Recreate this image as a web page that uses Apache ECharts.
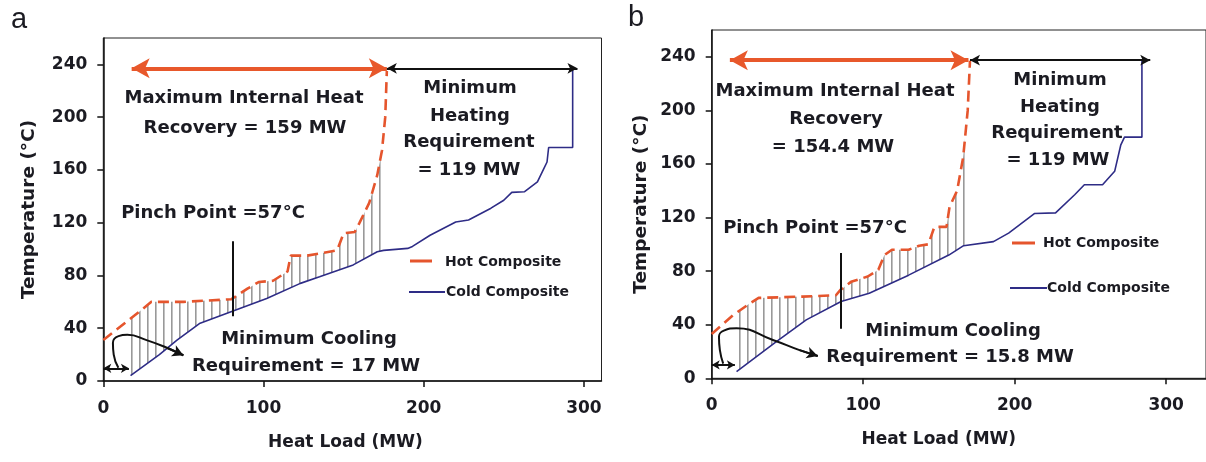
<!DOCTYPE html>
<html>
<head>
<meta charset="utf-8">
<script src="https://cdn.jsdelivr.net/npm/echarts@6/dist/echarts.min.js"></script>
<style>
html,body{margin:0;padding:0;background:#fff;}
#chart{width:1206px;height:462px;}
</style>
</head>
<body>
<div id="chart"></div>
<script>
// ---------- data ----------
const xTicks = [0, 100, 200, 300];
const yTicks = [0, 40, 80, 120, 160, 200, 240];

// Panel a
const hotA_MW = [0, 24, 30, 50, 80, 90, 97, 106, 115, 117, 127, 137, 146, 150, 157, 160, 166, 171, 174, 176, 177];
const hotA_T  = [31, 54, 60, 60, 62, 70, 75, 76, 83, 95, 95, 97, 99, 112, 113, 120, 135, 156, 175, 200, 235];
const coldA_MW = [17, 35, 46, 60, 81, 102, 123, 135, 156, 171, 175, 190, 193, 204, 220, 228, 242, 250, 255, 263, 271, 275, 277, 278, 293, 293];
const coldA_T  = [4, 20, 31, 43.5, 53, 62.5, 74, 79, 88, 98, 99, 100.5, 102, 110.5, 120.5, 122, 131, 137, 143, 143.5, 151, 161, 166, 177, 177, 237];
const recoveryA_MW = [17.7, 177];
const heatingA_MW = [177, 296];
const arrowA_T = 237;
const pinchA = [81, 49, 106];          // MW, T from, T to
const coolBarA = [0, 16, 9.6];         // MW from, MW to, T
const curveA_MW = [9.4, 6.5, 6, 9.5, 15, 27, 40, 50];
const curveA_T  = [10, 20, 29, 34, 35, 31, 25, 19.5];

// Panel b
const hotB_MW = [0, 14, 24, 31, 60, 82, 85, 92, 103, 110, 114, 119, 130, 137, 143, 147, 155, 157, 162, 166, 169, 170.5];
const hotB_T  = [33, 47, 55, 60, 61, 62, 66, 72, 76, 81, 92, 96, 96, 99, 100, 113, 113, 128, 140, 165, 200, 237];
const coldB_MW = [16.4, 42.7, 62.4, 85.4, 104, 130, 156.5, 166.3, 186, 196, 213, 227, 239.6, 246, 258, 266, 270, 272.5, 284, 284];
const coldB_T  = [5, 27.4, 43.6, 57.3, 63.5, 77, 92, 99, 102, 108.4, 123, 123.5, 137, 144.5, 144.5, 154.5, 174, 180, 180, 237];
const recoveryB_MW = [12, 169.5];
const heatingB_MW = [170.5, 289.5];
const arrowB_T = 237.5;
const pinchB = [85.4, 37, 93.5];
const coolBarB = [0, 15.3, 10];
const curveB_MW = [7.6, 5.4, 4.8, 8, 16.4, 40.4, 58, 70];
const curveB_T  = [11, 21, 31, 35.6, 37.4, 28.6, 21, 16.7];

// ---------- styling ----------
const HOT = '#E5552D';
const COLD = '#2E2C86';
const TXT = '#1b1b22';
const FONT = '"DejaVu Sans", sans-serif';

function zip(a, b) { return a.map((v, i) => [v, b[i]]); }
function interp(xs, ys, x) {
  for (let i = 0; i < xs.length - 1; i++) {
    if (x >= xs[i] && x <= xs[i + 1]) {
      const f = xs[i + 1] === xs[i] ? 0 : (x - xs[i]) / (xs[i + 1] - xs[i]);
      return ys[i] + f * (ys[i + 1] - ys[i]);
    }
  }
  return ys[ys.length - 1];
}

const patCanvas = document.createElement('canvas');
patCanvas.width = 8; patCanvas.height = 8;
(function () {
  const g = patCanvas.getContext('2d');
  g.fillStyle = '#999999';
  g.fillRect(3, 0, 1.6, 8);
})();
const hatchFill = { image: patCanvas, repeat: 'repeat' };

function hatchSeries(hx, ht, cx, ct, idx) {
  return {
    type: 'custom', xAxisIndex: idx, yAxisIndex: idx, silent: true, z: 1,
    data: [[cx[0], ct[0]]],
    renderItem: function (params, api) {
      const x0 = cx[0], x1 = hx[hx.length - 1];
      const pts = [api.coord([x0, interp(hx, ht, x0)])];
      for (let i = 0; i < hx.length; i++) if (hx[i] > x0) pts.push(api.coord([hx[i], ht[i]]));
      pts.push(api.coord([x1, interp(cx, ct, x1)]));
      for (let i = cx.length - 1; i >= 0; i--) if (cx[i] < x1) pts.push(api.coord([cx[i], ct[i]]));
      return { type: 'polygon', shape: { points: pts }, style: { fill: hatchFill, stroke: null } };
    }
  };
}

function arrowSeries(idx, lines, color, width, symbols, symbolSize) {
  return {
    type: 'line', xAxisIndex: idx, yAxisIndex: idx, data: [], silent: true, z: 5,
    markLine: {
      silent: true, animation: false, symbol: symbols, symbolSize: symbolSize,
      label: { show: false },
      lineStyle: { color: color, width: width, type: 'solid', opacity: 1 },
      emphasis: { disabled: true },
      data: lines
    }
  };
}

function panelSeries(idx, hx, ht, cx, ct, rec, heat, arrT, pinch, bar, cvx, cvy) {
  const n = cvx.length;
  return [
    hatchSeries(hx, ht, cx, ct, idx),
    { name: 'Cold Composite', type: 'line', xAxisIndex: idx, yAxisIndex: idx, data: zip(cx, ct),
      showSymbol: false, symbol: 'none', z: 3, lineStyle: { color: COLD, width: 1.6 } },
    { name: 'Hot Composite', type: 'line', xAxisIndex: idx, yAxisIndex: idx, data: zip(hx, ht),
      showSymbol: false, symbol: 'none', z: 4, lineStyle: { color: HOT, width: 2.6, type: [11, 6] } },
    arrowSeries(idx, [[{ coord: [rec[0], arrT] }, { coord: [rec[1], arrT] }]], '#E8582B', 4, ['arrow', 'arrow'], [15, 18]),
    arrowSeries(idx, [[{ coord: [heat[0], arrT] }, { coord: [heat[1], arrT] }]], '#111', 2, ['arrow', 'arrow'], [8, 10]),
    arrowSeries(idx, [[{ coord: [pinch[0], pinch[1]] }, { coord: [pinch[0], pinch[2]] }]], '#111', 2, ['none', 'none'], 0),
    arrowSeries(idx, [[{ coord: [bar[0], bar[2]] }, { coord: [bar[1], bar[2]] }]], '#111', 2, ['arrow', 'arrow'], [7, 8]),
    { type: 'line', xAxisIndex: idx, yAxisIndex: idx, data: zip(cvx, cvy), smooth: 0.5, silent: true,
      showSymbol: false, symbol: 'none', z: 5, lineStyle: { color: '#111', width: 2 } },
    arrowSeries(idx, [[{ coord: [cvx[n - 2], cvy[n - 2]] }, { coord: [cvx[n - 1], cvy[n - 1]] }]], '#111', 2, ['none', 'arrow'], [9, 11])
  ];
}

function xAxis(idx, max, namePad) {
  return {
    type: 'value', gridIndex: idx, min: 0, max: max, interval: 100,
    name: 'Heat Load (MW)', nameLocation: 'middle', nameGap: 53,
    nameTextStyle: { color: TXT, fontFamily: FONT, fontWeight: 'bold', fontSize: 17, padding: namePad },
    axisLine: { show: true, onZero: false, lineStyle: { color: '#111', width: 1.5 } },
    axisTick: { show: true, inside: false, length: 6, customValues: xTicks, lineStyle: { color: '#111', width: 1.5 } },
    axisLabel: { customValues: xTicks, margin: 19, color: TXT, fontFamily: FONT, fontWeight: 'bold', fontSize: 17 },
    splitLine: { show: false }
  };
}
function yAxis(idx, gap) {
  return {
    type: 'value', gridIndex: idx, min: 0, max: 260, interval: 40,
    name: 'Temperature (°C)', nameLocation: 'middle', nameGap: gap, nameRotate: 90,
    nameTextStyle: { color: TXT, fontFamily: FONT, fontWeight: 'bold', fontSize: 18.5 },
    axisLine: { show: true, onZero: false, lineStyle: { color: '#111', width: 1.5 } },
    axisTick: { show: true, inside: false, length: 6, customValues: yTicks, lineStyle: { color: '#111', width: 1.5 } },
    axisLabel: { customValues: yTicks, margin: 16, color: TXT, fontFamily: FONT, fontWeight: 'bold', fontSize: 17 },
    splitLine: { show: false }
  };
}

function txt(x, y, s, size, weight, fam) {
  return { type: 'text', x: x, y: y, silent: true, z: 20,
    style: { text: s, fill: TXT, font: (weight || 'bold') + ' ' + (size || 18) + 'px ' + (fam || FONT),
      align: 'center', verticalAlign: 'middle', textAlign: 'center', textVerticalAlign: 'middle' } };
}
function txtL(x, y, s, size) {
  return { type: 'text', x: x, y: y, silent: true, z: 20,
    style: { text: s, fill: TXT, font: 'bold ' + size + 'px ' + FONT,
      align: 'left', verticalAlign: 'middle', textAlign: 'left', textVerticalAlign: 'middle' } };
}
function legendLine(x1, x2, y, color, w) {
  return { type: 'line', silent: true, z: 20, shape: { x1: x1, y1: y, x2: x2, y2: y }, style: { stroke: color, lineWidth: w } };
}

const chart = echarts.init(document.getElementById('chart'), null, { renderer: 'canvas' });
chart.setOption({
  animation: false,
  backgroundColor: '#fff',
  grid: [
    { left: 103.3, top: 38, width: 498.2, height: 343, show: true, borderColor: '#222', borderWidth: 1, backgroundColor: 'transparent' },
    { left: 711.7, top: 30, width: 497, height: 348.3, show: true, borderColor: '#222', borderWidth: 1, backgroundColor: 'transparent' }
  ],
  xAxis: [xAxis(0, 311, [0, 14, 0, 0]), xAxis(1, 326.3, [0, 40, 0, 0])],
  yAxis: [yAxis(0, 65), yAxis(1, 61)],
  series: [].concat(
    panelSeries(0, hotA_MW, hotA_T, coldA_MW, coldA_T, recoveryA_MW, heatingA_MW, arrowA_T, pinchA, coolBarA, curveA_MW, curveA_T),
    panelSeries(1, hotB_MW, hotB_T, coldB_MW, coldB_T, recoveryB_MW, heatingB_MW, arrowB_T, pinchB, coolBarB, curveB_MW, curveB_T)
  ),
  graphic: [
    txt(19, 20, 'a', 29, 'normal', '"Liberation Sans", sans-serif'),
    txt(636, 18, 'b', 29, 'normal', '"Liberation Sans", sans-serif'),
    // panel a annotations
    txt(244, 98, 'Maximum Internal Heat'),
    txt(245, 128, 'Recovery = 159 MW'),
    txt(470, 88, 'Minimum'),
    txt(470, 116, 'Heating'),
    txt(469, 142, 'Requirement'),
    txt(469, 170, '= 119 MW'),
    txt(213, 213, 'Pinch Point =57°C'),
    txt(309, 339, 'Minimum Cooling'),
    txt(306, 366, 'Requirement = 17 MW'),
    legendLine(410, 432, 261, HOT, 3),
    txtL(445, 262, 'Hot Composite', 14),
    legendLine(409, 445, 292, COLD, 2),
    txtL(446, 292, 'Cold Composite', 14),
    // panel b annotations
    txt(835, 91, 'Maximum Internal Heat'),
    txt(836, 119, 'Recovery'),
    txt(833, 147, '= 154.4 MW'),
    txt(1060, 80, 'Minimum'),
    txt(1060, 107, 'Heating'),
    txt(1057, 133, 'Requirement'),
    txt(1058, 160, '= 119 MW'),
    txt(815, 228, 'Pinch Point =57°C'),
    txt(953, 331, 'Minimum Cooling'),
    txt(950, 357, 'Requirement = 15.8 MW'),
    legendLine(1012, 1035, 243, HOT, 3),
    txtL(1043, 243, 'Hot Composite', 14),
    legendLine(1010, 1047, 288, COLD, 2),
    txtL(1047, 288, 'Cold Composite', 14)
  ]
});
</script>
</body>
</html>
